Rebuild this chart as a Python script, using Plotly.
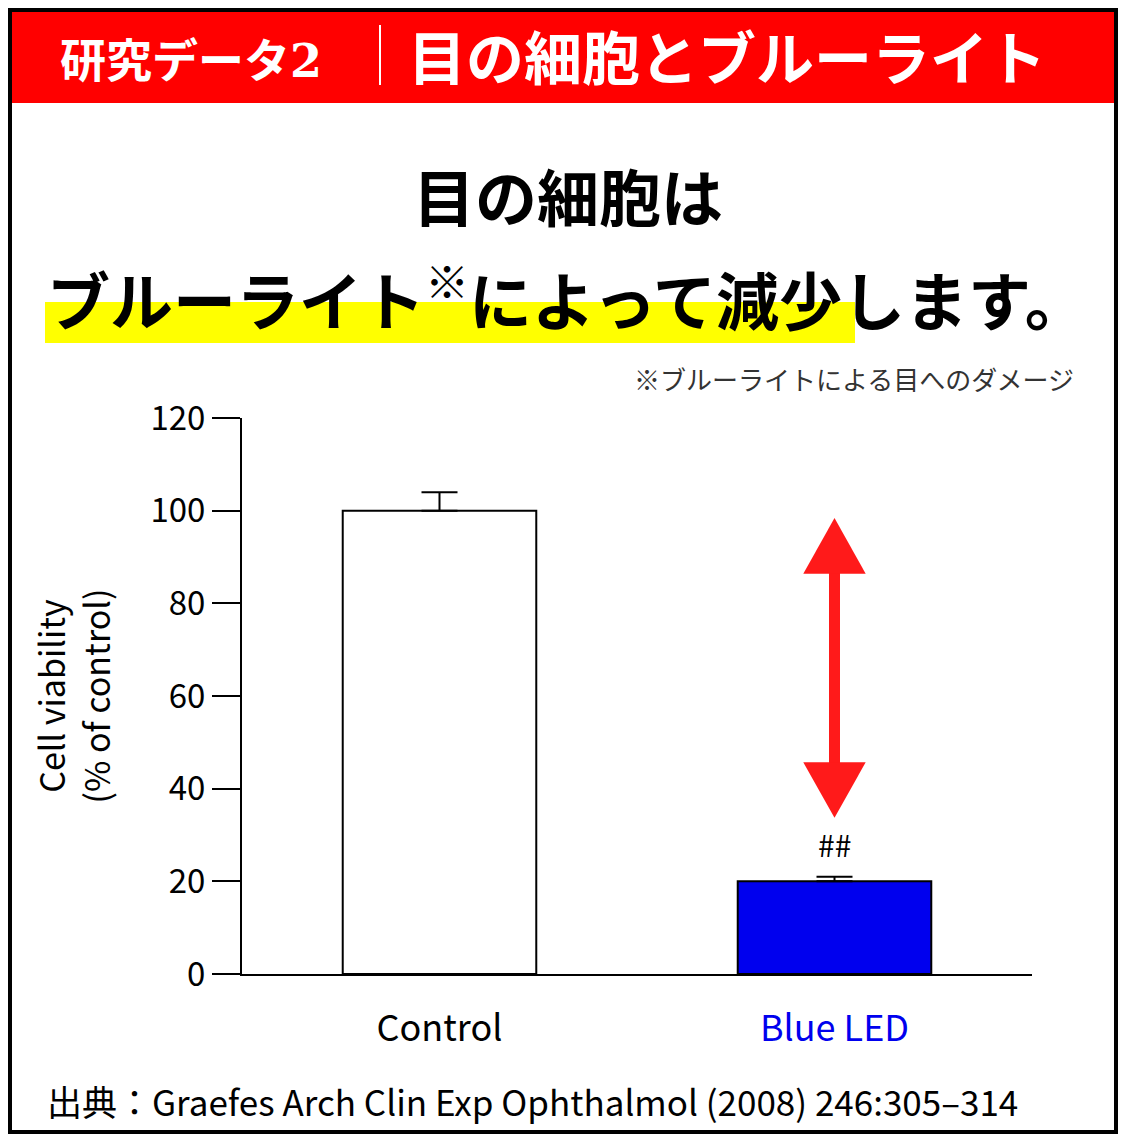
import plotly.graph_objects as go

groups = ["Control", "Blue LED"]
viability = [100, 20]
err_plus = [4, 1]
y_ticks = [0, 20, 40, 60, 80, 100, 120]
arrow_top, arrow_bottom = 98.4, 33.7
sig_label = "##"
sig_y = 28

W, H = 1126, 1142
OFF = 8  # page body margin
L, R, T, B = 242, 94, 418, 168
PW, PH = W - L - R, H - T - B

def px(x):
    return (x - L) / PW

def py(y):
    return (H - B - y) / PH

FONT = "Noto Sans CJK JP"

fig = go.Figure()
fig.add_trace(go.Bar(
    x=[0, 1], y=viability, width=0.49,
    marker=dict(color=["white", "#0000ee"], line=dict(color="black", width=2)),
    error_y=dict(type="data", array=err_plus, arrayminus=[0, 0], color="black",
                 thickness=2, width=18),
    showlegend=False, hoverinfo="skip",
))

shapes = []
# header bar and frame
shapes.append(dict(type="rect", xref="paper", yref="paper", x0=px(OFF), x1=px(W - OFF),
                   y0=py(103), y1=py(OFF), fillcolor="#ff0000", line_width=0, layer="below"))
shapes.append(dict(type="rect", xref="paper", yref="paper", x0=px(OFF + 2), x1=px(W - OFF - 2),
                   y0=py(H - OFF - 2), y1=py(OFF + 2), line=dict(color="black", width=4)))
shapes.append(dict(type="line", xref="paper", yref="paper", x0=px(380), x1=px(380),
                   y0=py(85), y1=py(25), line=dict(color="white", width=2)))
# yellow highlight
shapes.append(dict(type="rect", xref="paper", yref="paper", x0=px(45), x1=px(855),
                   y0=py(343), y1=py(302), fillcolor="#ffff00", line_width=0, layer="below"))
# double arrow
hw = 0.079
head = 12
shapes.append(dict(type="line", x0=1, x1=1, y0=arrow_bottom + head - 1, y1=arrow_top - head + 1,
                   line=dict(color="#ff1a1a", width=11)))
shapes.append(dict(type="path", fillcolor="#ff1a1a", line_width=0,
                   path=f"M {1-hw},{arrow_top-head} L 1,{arrow_top} L {1+hw},{arrow_top-head} Z"))
shapes.append(dict(type="path", fillcolor="#ff1a1a", line_width=0,
                   path=f"M {1-hw},{arrow_bottom+head} L 1,{arrow_bottom} L {1+hw},{arrow_bottom+head} Z"))

ann = []
def text(x, y, t, size, color="black", xanchor="center", bold=False, font=FONT):
    ann.append(dict(xref="paper", yref="paper", x=px(x), y=py(y), text=f"<b>{t}</b>" if bold else t,
                    showarrow=False, xanchor=xanchor, yanchor="middle",
                    font=dict(size=size, color=color, family=font)))

text(58, 57, "研究データ<span style='font-family:DejaVu Serif'>2</span>", 46, "white", "left", True)
text(406, 55, "目の細胞とブルーライト", 58, "white", "left", True)
text(568, 195, "目の細胞は", 62, bold=True)
text(45, 295, "ブルーライト<sup>※</sup>によって減少します。", 63, xanchor="left", bold=True)
text(1076, 378, "※ブルーライトによる目へのダメージ", 26, "#333333", "right")
text(45, 1100, "出典：Graefes Arch Clin Exp Ophthalmol (2008) 246:305–314", 35, xanchor="left")
ann.append(dict(x=1, y=sig_y, text=sig_label, showarrow=False, font=dict(size=30, color="black", family=FONT)))

fig.update_layout(
    width=W - 2 * OFF, height=H - 2 * OFF,
    margin=dict(l=L - OFF, r=R - OFF, t=T - OFF, b=B - OFF),
    paper_bgcolor="white", plot_bgcolor="white",
    shapes=shapes, annotations=ann,
    xaxis=dict(range=[-0.5, 1.5], tickvals=[0, 1],
               ticktext=["Control", "<span style='color:#0000ee'>Blue LED</span>"],
               showline=True, linecolor="black", linewidth=2, ticks="", showgrid=False,
               ticklabelstandoff=22,
               tickfont=dict(size=36, family=FONT, color="black"), zeroline=False),
    yaxis=dict(range=[0, 120], tickvals=y_ticks, showline=True, linecolor="black", linewidth=2,
               ticks="outside", ticklen=28, tickwidth=2, tickcolor="black", showgrid=False,
               zeroline=False, tickfont=dict(size=33, family=FONT, color="black"),
               title=dict(text="Cell viability<br>(% of control)", standoff=30,
                          font=dict(size=34, family=FONT, color="black"))),
)
fig.write_html("out.html")
